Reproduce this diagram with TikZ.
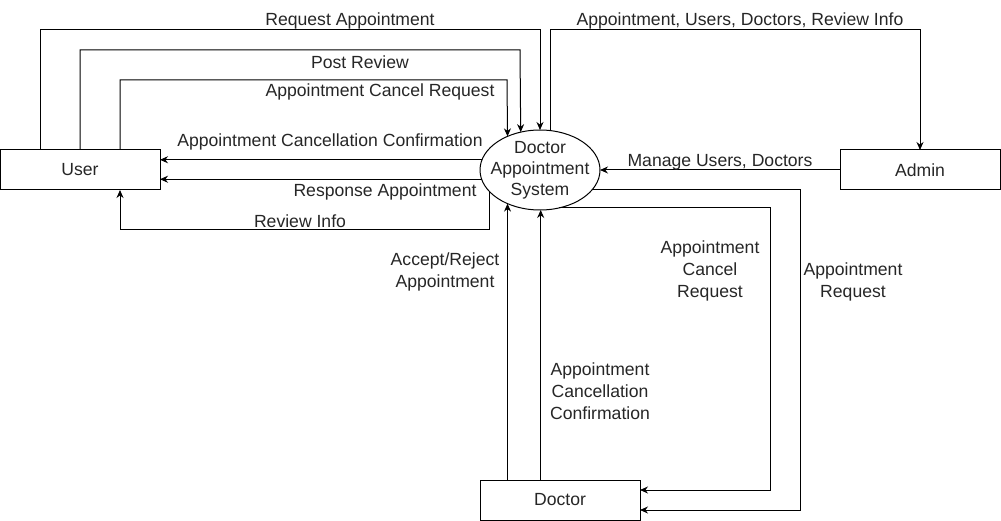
\documentclass[tikz,border=0pt]{standalone}
\usepackage{fontspec}
\setmainfont{Liberation Sans}
\usetikzlibrary{shapes.geometric,arrows.meta}
\begin{document}
\begin{tikzpicture}[x=1pt,y=-1pt,
  every node/.style={font=\fontsize{17.6}{22}\selectfont, text=black!85, inner sep=0pt, outer sep=0pt},
  entity/.style={draw, line width=1pt, minimum width=160pt, minimum height=40pt, inner sep=0pt},
  proc/.style={draw, ellipse, line width=1pt, minimum width=120pt, minimum height=80pt, inner sep=0pt},
  lbl/.style={align=center, yshift=-2pt},
  arr/.style={line width=1pt, -{Stealth[length=8pt,width=7pt]}}]
\useasboundingbox (0,0) rectangle (1001,521);
\node[entity] (user) at (80,170) {User};
\node[entity] (admin) at (920,170) {Admin};
\node[entity] (doc) at (560,500) {Doctor};
\node[proc] (sys) at (540,170) {};
\node[align=center, font=\fontsize{17.6}{21}\selectfont] (systext) at (540,170) {Doctor\\Appointment\\System};

\coordinate (c1) at (540,30);
\coordinate (c2) at (520,50);
\coordinate (c3) at (507,80);
\coordinate (c4) at (120,230);
\coordinate (c5) at (920,30);
\coordinate (c6) at (800,510);
\coordinate (c7) at (770,490);

% user -> system
\draw[arr] ([xshift=-40pt]user.north) |- (c1) -- (sys.north);
\draw[arr] (user.north) |- (c2) -- (sys.117.9);
\draw[arr] ([xshift=40pt]user.north) |- (c3) -- (sys.134.7);
% system -> user
\draw[arr] (sys.170.2) -- (sys.170.2 -| user.east);
\draw[arr] (sys.189.8) -- (sys.189.8 -| user.east);
\draw[arr] (sys.203.8) |- (c4) -- ([xshift=40pt]user.south);
% system -> admin
\draw[arr] (sys.75.8) |- (c5) -- (admin.north);
% admin -> system
\draw[arr] (admin.west) -- (sys.east);
% system -> doctor
\draw[arr] (sys.-21) -| (c6) -- (c6 -| doc.east);
\draw[arr] (sys.-63.8) -| (c7) -- (c7 -| doc.east);
% doctor -> system
\draw[arr] (doc.north -| sys.226.6) -- (sys.226.6);
\draw[arr] (doc.north -| sys.271) -- (sys.271);

% labels
\node[lbl] (l1) at (350,19) {Request Appointment};
\node[lbl] (l2) at (360,60) {Post Review};
\node[lbl] (l3) at (380,90) {Appointment Cancel Request};
\node[lbl] (l4) at (330,140) {Appointment Cancellation Confirmation};
\node[lbl] (l5) at (385,190) {Response Appointment};
\node[lbl] (l6) at (300,219) {Review Info};
\node[lbl] (l7) at (740,19) {Appointment, Users, Doctors, Review Info};
\node[lbl] (l8) at (720,160) {Manage Users, Doctors};
\node[lbl] (l9) at (445,270) {Accept/Reject\\Appointment};
\node[lbl] (l10) at (710,269) {Appointment\\Cancel\\Request};
\node[lbl] (l11) at (853,280) {Appointment\\Request};
\node[lbl] (l12) at (600,389) {Appointment\\Cancellation\\Confirmation};
\end{tikzpicture}
\end{document}
